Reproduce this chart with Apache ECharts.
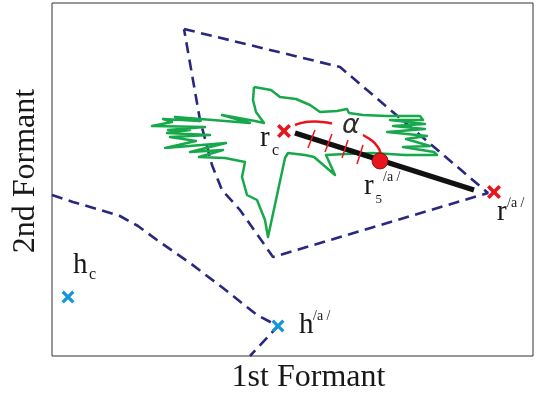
<!DOCTYPE html>
<html>
<head>
<meta charset="utf-8">
<script src="https://cdn.jsdelivr.net/npm/echarts@6/dist/echarts.min.js"></script>
<style>
html,body{margin:0;padding:0;background:#fff;}
#chart{width:542px;height:399px;}
</style>
</head>
<body>
<div id="chart"></div>
<script>
// Values (arbitrary formant units)
const quadBoundary = [[184,29],[340,67],[488,193],[273,257],[240,210],[222,190],[212,165],[200,120],[184,29]];
const lowerBoundary = [[52,195],[73,202],[97,209],[120,216],[138,226],[157,240],[190,263],[223,288],[257,315],[278,326],[250,356]];
const greenTrajectory = [
  [254,87],[271,90],[280,97],[296,99],[310,105],[320,112],[337,111],[347,109],[349,113],[363,115],
  [387,116],[420,116],[423,120],[390,120],[425,124],[393,126],[425,129],[387,132],[427,136],[406,139],
  [430,146],[403,147],[434,152],[437,155],[405,155],[373,153],[345,154],[326,155],[335,175],[314,157],
  [305,155],[288,153],[285,158],[268,237],[265,220],[257,200],[247,195],[242,177],[245,162],[225,158],
  [199,157],[223,150],[190,152],[226,143],[165,148],[196,141],[170,137],[210,135],[167,133],[190,130],
  [168,130],[205,127],[152,126],[172,122],[163,119],[200,121],[175,117],[250,123],[222,115],[255,121],
  [264,123],[256,112],[253,100],[254,87]
];
const rMarks = [[284,131],[494,192]];
const hMarks = [[68,297],[278,326]];
const r5Point = [[380,161]];
const blackSegment = [[295,133],[474,190]];
const hatchSegments = [
  [[315,130],[308,148]],
  [[332,134],[325,152]],
  [[348,140],[342,158]],
  [[363,145],[357,164]]
];
const arcLeft = [[295,125],[301,123],[308,121.8],[315,121.5],[322,122],[327,122.6],[332,123.5]];
const arcRight = [[363,135],[368,138],[373,141.5],[377,146],[379.5,150],[380.5,154]];

const crossPath = 'path://M0,1.8L1.8,0L5,3.2L8.2,0L10,1.8L6.8,5L10,8.2L8.2,10L5,6.8L1.8,10L0,8.2L3.2,5Z';
const navy = '#28287f';
const red = '#e8151d';
const blue = '#1596d8';
const green = '#16a84a';
const serif = 'Liberation Serif';
const textColor = '#1a1718';

const chart = echarts.init(document.getElementById('chart'), null, {renderer:'canvas'});

function txt(x, y, s, size) {
  return {
    type: 'text', x: x, y: y, z: 100,
    style: {text: s, fontFamily: serif, fontSize: size, fill: textColor, align: 'left', verticalAlign: 'middle'}
  };
}

const option = {
  animation: false,
  grid: {left: 52, top: 3, right: 9, bottom: 43, show: true, borderColor: '#333', borderWidth: 1, backgroundColor: 'transparent'},
  xAxis: {type: 'value', min: 52, max: 533, show: false},
  yAxis: {type: 'value', min: 3, max: 356, inverse: true, show: false},
  series: [
    {type: 'line', data: quadBoundary, symbol: 'none', lineStyle: {color: navy, width: 2.6, type: [11, 6.5]}, z: 1},
    {type: 'line', data: lowerBoundary, symbol: 'none', lineStyle: {color: navy, width: 2.6, type: [11, 6.5]}, z: 1},
    {type: 'line', data: greenTrajectory, symbol: 'none', lineStyle: {color: green, width: 2.5, join: 'round'}, z: 2},
    {type: 'line', data: blackSegment, symbol: 'none', lineStyle: {color: '#111', width: 5.5, cap: 'butt'}, z: 3},
    {type: 'lines', coordinateSystem: 'cartesian2d', data: hatchSegments.map(c => ({coords: c})),
      lineStyle: {color: red, width: 1.5, opacity: 1}, z: 4},
    {type: 'line', data: arcLeft, smooth: true, symbol: 'none', lineStyle: {color: red, width: 2.5}, z: 4},
    {type: 'line', data: arcRight, smooth: true, symbol: 'none', lineStyle: {color: red, width: 2.5}, z: 4},
    {type: 'scatter', data: rMarks, symbol: crossPath, symbolSize: 14, itemStyle: {color: red, opacity: 1}, z: 5},
    {type: 'scatter', data: hMarks, symbol: crossPath, symbolSize: 13, itemStyle: {color: blue, opacity: 1}, z: 5},
    {type: 'scatter', data: r5Point, symbol: 'circle', symbolSize: 16, itemStyle: {color: red, opacity: 1, borderColor: '#6a0c0c', borderWidth: 0.8}, z: 6}
  ],
  graphic: [
    {type: 'text', x: 308.5, y: 377.5, z: 100,
      style: {text: '1st Formant', fontFamily: serif, fontSize: 32, fill: textColor, align: 'center', verticalAlign: 'middle'}},
    {type: 'text', x: 26, y: 171, rotation: Math.PI / 2, z: 100,
      style: {text: '2nd Formant', fontFamily: serif, fontSize: 32, fill: textColor, align: 'center', verticalAlign: 'middle'}},
    txt(260, 138.2, 'r', 29),
    txt(272, 150.6, 'c', 16),
    {type: 'text', x: 351, y: 125.5, z: 100,
      style: {text: 'α', fontFamily: 'DejaVu Sans', fontSize: 27, fontStyle: 'italic', fill: '#2e2e2e', align: 'center', verticalAlign: 'middle'}},
    txt(73, 265.2, 'h', 29),
    txt(89, 274.6, 'c', 16),
    txt(299, 325.2, 'h', 29),
    txt(313, 316.3, '/a /', 14),
    txt(364, 186.2, 'r', 29),
    txt(375.5, 199.6, '5', 13),
    txt(383, 177.3, '/a /', 14),
    txt(497, 212.7, 'r', 29),
    txt(507, 203.8, '/a /', 14)
  ]
};
chart.setOption(option);
</script>
</body>
</html>
